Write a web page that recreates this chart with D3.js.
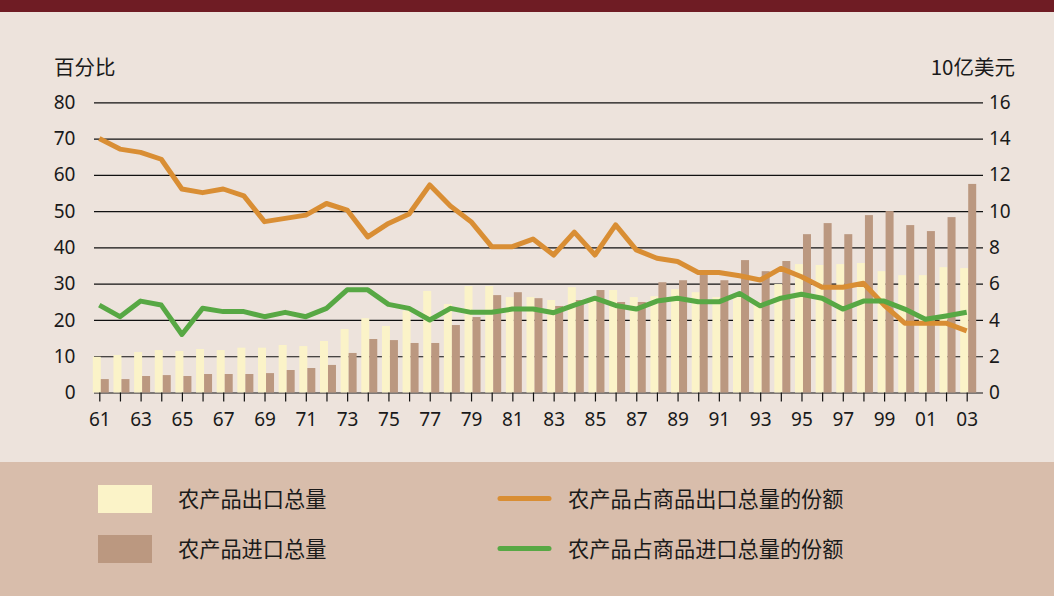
<!DOCTYPE html>
<html><head><meta charset="utf-8">
<script src="https://cdn.jsdelivr.net/npm/d3@7"></script>
<style>
html,body{margin:0;padding:0;background:#ede3dc;}
svg{display:block;}
text{font-family:"Noto Sans","Noto Sans CJK SC",sans-serif;fill:#1a1a1a;}
.cjk{font-family:"Noto Sans CJK SC","Noto Sans",sans-serif;}
</style></head>
<body>
<svg id="c" width="1054" height="596"></svg>
<script>
const years = [1961,1962,1963,1964,1965,1966,1967,1968,1969,1970,1971,1972,1973,1974,1975,1976,1977,1978,1979,1980,1981,1982,1983,1984,1985,1986,1987,1988,1989,1990,1991,1992,1993,1994,1995,1996,1997,1998,1999,2000,2001,2002,2003];
const xTickLabels = ["61","63","65","67","69","71","73","75","77","79","81","83","85","87","89","91","93","95","97","99","01","03"];
const leftTicks = [0,10,20,30,40,50,60,70,80];
const rightTicks = [0,2,4,6,8,10,12,14,16];
// 10亿美元
const agExports = [1.97,2.07,2.23,2.34,2.29,2.40,2.34,2.47,2.47,2.62, 2.56,2.84,3.50,4.10,3.67,4.51,5.60,4.88,5.87,5.87, 5.26,5.26,5.10,5.81,5.26,5.65,5.26,5.31,5.70,5.53, 5.26,5.30,5.00,5.98,7.08,7.03,7.08,7.14,6.69,6.47, 6.47,6.91,6.86];
const agImports = [0.74,0.74,0.91,0.96,0.91,1.02,1.02,1.02,1.07,1.24, 1.35,1.52,2.18,2.95,2.89,2.73,2.73,3.72,4.16,5.37, 5.53,5.20,4.77,5.10,5.65,4.99,4.99,6.08,6.19,6.50, 6.19,7.30,6.69,7.25,8.73,9.34,8.73,9.78,10.0,9.23, 8.90,9.67,11.5];
// 百分比
const shareExports = [70.0,67.1,66.2,64.3,56.1,55.1,56.1,54.2,47.1,48.0, 48.9,52.1,50.3,42.9,46.6,49.2,57.2,51.4,47.1,40.2, 40.2,42.3,37.9,44.2,37.9,46.2,39.3,37.0,36.1,33.1, 33.1,32.2,31.0,34.2,31.9,29.0,29.0,30.1,24.1,19.1, 19.1,19.1,17.0];
const shareImports = [24.1,20.9,25.2,24.1,16.0,23.2,22.3,22.3,20.9,22.1, 20.9,23.2,28.3,28.3,24.3,23.2,20.0,23.2,22.1,22.1, 23.0,23.0,22.0,24.1,26.0,24.0,23.0,25.2,26.0,25.0, 25.0,27.3,23.9,26.0,27.1,26.0,23.0,25.2,25.2,23.0, 20.2,21.1,22.1];
const legendBars = ["农产品出口总量","农产品进口总量"];
const legendLines = ["农产品占商品出口总量的份额","农产品占商品进口总量的份额"];

const C = {bg:"#ede3dc", top:"#6f1c24", legend:"#d8bdab", exp:"#fbf3c8", imp:"#bb9880", orange:"#d98e34", green:"#57a844"};

const svg = d3.select("#c");
svg.append("rect").attr("width",1054).attr("height",596).attr("fill",C.bg);
svg.append("rect").attr("width",1054).attr("height",12).attr("fill",C.top);
svg.append("rect").attr("y",462).attr("width",1054).attr("height",134).attr("fill",C.legend);

const x = d3.scaleLinear().domain([1961,2003]).range([99.3,966.7]);
const yL = d3.scaleLinear().domain([0,80]).range([392.5,102.3]);
const yR = d3.scaleLinear().domain([0,16]).range([392.5,102.3]);

// gridlines
const grid = svg.append("g").attr("transform","translate(94,0)")
  .call(d3.axisRight(yL).tickValues(leftTicks).tickSize(889).tickFormat(""));
grid.select(".domain").remove();
grid.selectAll("line").attr("stroke","#111").attr("stroke-width",1.2);

// bars
const bw = 8;
svg.append("g").selectAll("rect").data(years).join("rect")
  .attr("x",(d)=>x(d)-6.5).attr("width",bw)
  .attr("y",(d,i)=>yR(agExports[i])).attr("height",(d,i)=>yR(0)-yR(agExports[i]))
  .attr("fill",C.exp);
svg.append("g").selectAll("rect").data(years).join("rect")
  .attr("x",(d)=>x(d)+1.5).attr("width",bw)
  .attr("y",(d,i)=>yR(agImports[i])).attr("height",(d,i)=>yR(0)-yR(agImports[i]))
  .attr("fill",C.imp);

// x axis ticks
const xa = svg.append("g").attr("transform","translate(0,392.5)")
  .call(d3.axisBottom(x).tickValues(years).tickSize(9).tickPadding(13)
    .tickFormat(d=>{const s=String(d).slice(2);return xTickLabels.includes(s)?s:"";}));
xa.select(".domain").remove();
xa.selectAll("line").attr("stroke","#111").attr("stroke-width",1.2);
xa.selectAll("text").attr("font-size",19).attr("fill","#1a1a1a").attr("dy","0.6em")
  .style("font-family","'Noto Sans',sans-serif");

// left axis labels
const la = svg.append("g").attr("transform","translate(94,0)")
  .call(d3.axisLeft(yL).tickValues(leftTicks).tickSize(0).tickPadding(18.5));
la.select(".domain").remove();
la.selectAll("text").attr("font-size",19).attr("fill","#1a1a1a").style("font-family","'Noto Sans',sans-serif");

// right axis labels
const ra = svg.append("g").attr("transform","translate(983,0)")
  .call(d3.axisRight(yR).tickValues(rightTicks).tickSize(0).tickPadding(6));
ra.select(".domain").remove();
ra.selectAll("text").attr("font-size",19).attr("fill","#1a1a1a").style("font-family","'Noto Sans',sans-serif");

// lines
const lineL = d3.line().x((d,i)=>x(years[i])).y(d=>yL(d));
svg.append("path").datum(shareExports).attr("d",lineL).attr("fill","none")
  .attr("stroke",C.orange).attr("stroke-width",5).attr("stroke-linejoin","round");
svg.append("path").datum(shareImports).attr("d",lineL).attr("fill","none")
  .attr("stroke",C.green).attr("stroke-width",5).attr("stroke-linejoin","round");

// axis titles
svg.append("text").attr("class","cjk").attr("x",54).attr("y",75).attr("font-size",20.5).text("百分比");
svg.append("text").attr("class","cjk").attr("x",1015).attr("y",75).attr("font-size",20.5)
  .attr("text-anchor","end").text("10亿美元");

// legend
const lgColors = [C.exp,C.imp];
const lineColors = [C.orange,C.green];
[0,1].forEach(i=>{
  const cy = 499 + i*50;
  svg.append("rect").attr("x",98).attr("y",cy-14).attr("width",54).attr("height",28).attr("fill",lgColors[i]);
  svg.append("text").attr("class","cjk").attr("x",178).attr("y",cy).attr("dy","0.36em")
    .attr("font-size",21.2).text(legendBars[i]);
  svg.append("line").attr("x1",500).attr("x2",549).attr("y1",cy-0.5).attr("y2",cy-0.5)
    .attr("stroke",lineColors[i]).attr("stroke-width",5).attr("stroke-linecap","round");
  svg.append("text").attr("class","cjk").attr("x",568).attr("y",cy).attr("dy","0.36em")
    .attr("font-size",21.2).text(legendLines[i]);
});
</script>
</body></html>
